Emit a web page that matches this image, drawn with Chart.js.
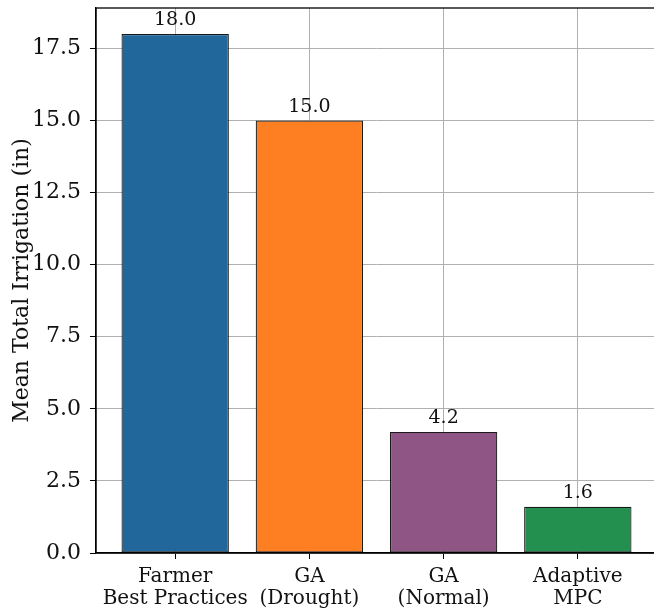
<!DOCTYPE html>
<html>
<head>
<meta charset="utf-8">
<script src="https://cdn.jsdelivr.net/npm/chart.js@4/dist/chart.umd.min.js"></script>
<style>
  html, body { margin: 0; padding: 0; background: #fff; overflow: hidden; }
  #wrap { width: 654px; height: 613px; overflow: hidden; position: relative; }
  canvas { position: absolute; left: 0; top: 0; }
</style>
</head>
<body>
<div id="wrap"><canvas id="c" width="680" height="613"></canvas></div>
<script>
// Strategies compared, one bar each
const categories = [
  ["Farmer", "Best Practices"],
  ["GA", "(Drought)"],
  ["GA", "(Normal)"],
  ["Adaptive", "MPC"]
];
// Mean total irrigation per strategy (inches)
const irrigation = [18.0, 15.0, 4.2, 1.6];
const barColors = ["#21679c", "#fd7f21", "#8e5585", "#23904f"];
const yTicks = [0, 2.5, 5, 7.5, 10, 12.5, 15, 17.5];

const FONT = "'DejaVu Serif', serif";
const GRID = "#b0b0b0";

// Value printed above each bar
const barValueLabels = {
  id: "barValueLabels",
  afterDatasetsDraw(chart) {
    const ctx = chart.ctx;
    const meta = chart.getDatasetMeta(0);
    ctx.save();
    ctx.font = "19px " + FONT;
    ctx.fillStyle = "#111";
    ctx.textAlign = "center";
    ctx.textBaseline = "bottom";
    meta.data.forEach((bar, i) => {
      ctx.fillText(irrigation[i].toFixed(1), bar.x, bar.y - 4);
    });
    ctx.restore();
  }
};

// Black frame around the plotting area
const axesFrame = {
  id: "axesFrame",
  afterDraw(chart) {
    const a = chart.chartArea;
    const ctx = chart.ctx;
    ctx.save();
    ctx.strokeStyle = "#000";
    ctx.lineWidth = 1.3;
    ctx.strokeRect(a.left, a.top, a.right - a.left, a.bottom - a.top);
    ctx.restore();
  }
};

new Chart(document.getElementById("c"), {
  type: "bar",
  data: {
    datasets: [{
      data: irrigation.map((v, i) => ({ x: i, y: v })),
      backgroundColor: barColors,
      borderColor: "#1a1a1a",
      borderWidth: 1.2,
      borderSkipped: false,
      categoryPercentage: 0.8,
      barPercentage: 1.0
    }]
  },
  options: {
    responsive: false,
    animation: false,
    devicePixelRatio: 1,
    layout: { padding: { top: 8, right: 23, left: 0, bottom: 0 } },
    plugins: {
      legend: { display: false },
      tooltip: { enabled: false }
    },
    scales: {
      x: {
        type: "linear",
        min: -0.59,
        max: 3.59,
        offset: false,
        z: 1,
        afterBuildTicks(scale) {
          scale.ticks = categories.map((_, i) => ({ value: i }));
        },
        afterFit(scale) {
          scale.height = 60;
          scale.paddingLeft = 0;
          scale.paddingRight = 0;
        },
        ticks: {
          autoSkip: false,
          maxRotation: 0,
          minRotation: 0,
          padding: 7,
          color: "#111",
          font: { family: FONT, size: 20, lineHeight: 1.08 },
          callback: (v) => categories[v]
        },
        grid: {
          offset: false,
          color: GRID,
          lineWidth: 1,
          tickColor: "#000",
          tickLength: 6,
          drawTicks: true
        },
        border: { display: true, color: "#000", width: 1.3 }
      },
      y: {
        min: 0,
        max: 18.9,
        z: 1,
        afterBuildTicks(scale) {
          scale.ticks = yTicks.map(v => ({ value: v }));
        },
        afterFit(scale) {
          scale.width = 96;
          scale.paddingTop = 0;
          scale.paddingBottom = 0;
        },
        ticks: {
          padding: 9,
          color: "#111",
          font: { family: FONT, size: 22 },
          callback: (v) => Number(v).toFixed(1)
        },
        grid: {
          color: GRID,
          lineWidth: 1,
          tickColor: "#000",
          tickLength: 6
        },
        border: { display: true, color: "#000", width: 1.3 },
        title: {
          display: true,
          text: "Mean Total Irrigation (in)",
          color: "#111",
          font: { family: FONT, size: 22 },
          padding: { top: 9, bottom: 0 }
        }
      }
    }
  },
  plugins: [barValueLabels, axesFrame]
});
</script>
</body>
</html>
